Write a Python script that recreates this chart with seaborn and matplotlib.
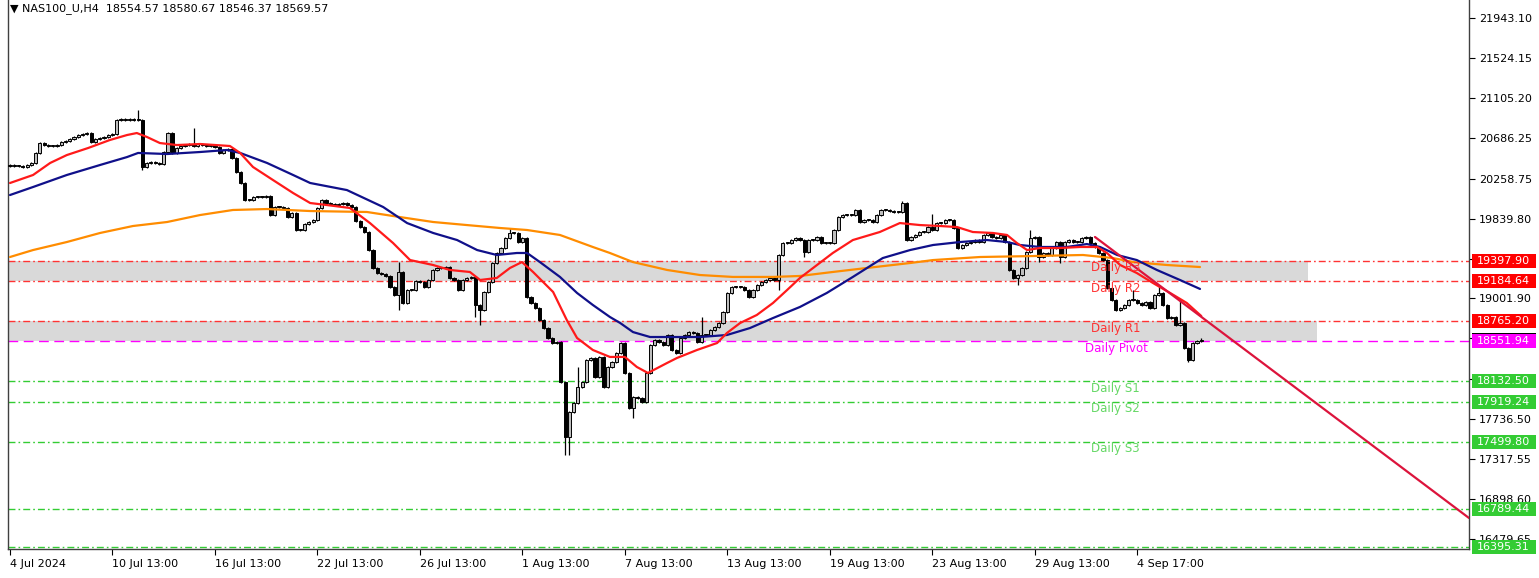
import numpy as np
import pandas as pd
import matplotlib
matplotlib.use("Agg")
import matplotlib.pyplot as plt
from matplotlib.patches import Rectangle
import seaborn as sns

# ---------------- data ----------------
closes = [
    20402, 20391, 20391, 20381, 20402, 20423, 20528, 20632, 20611, 20601,
    20601, 20611, 20643, 20653, 20674, 20695, 20716, 20727, 20737, 20643,
    20674, 20685, 20695, 20716, 20727, 20873, 20884, 20873, 20884, 20873,
    20873, 20381, 20423, 20433, 20423, 20412, 20538, 20737, 20528, 20580,
    20601, 20611, 20622, 20601, 20622, 20611, 20601, 20611, 20590, 20528,
    20559, 20570, 20475, 20329, 20213, 20035, 20035, 20066, 20066, 20066,
    20077, 19877, 19961, 19961, 19951, 19856, 19898, 19720, 19720, 19783,
    19804, 19825, 19951, 20035, 20003, 19993, 19982, 19993, 20003, 19982,
    19961, 19814, 19751, 19699, 19510, 19322, 19269, 19259, 19238, 19123,
    19039, 19280, 18955, 19091, 19091, 19186, 19175, 19123, 19196, 19301,
    19322, 19322, 19332, 19217, 19196, 19091, 19196, 19217, 19228, 18934,
    18881, 19070, 19175, 19374, 19479, 19531, 19636, 19689, 19689, 19594,
    19636, 19018, 18955, 18903, 18776, 18692, 18588, 18535, 18546, 18127,
    17550, 17812, 17906, 18074, 18127, 18357, 18378, 18179, 18389, 18074,
    18284, 18336, 18430, 18535, 18221, 17854, 17969, 17959, 17917, 18221,
    18514, 18567, 18546, 18514, 18619, 18462, 18430, 18588, 18619, 18650,
    18640, 18546, 18619, 18619, 18671, 18703, 18745, 18860, 19060, 19123,
    19123, 19123, 19091, 19018, 19091, 19144, 19175, 19196, 19217, 19196,
    19458, 19584, 19584, 19615, 19636, 19615, 19489, 19615, 19615, 19647,
    19584, 19584, 19584, 19720, 19856, 19877, 19877, 19877, 19930, 19804,
    19825, 19825, 19804, 19877, 19930, 19930, 19919, 19909, 19909, 20003,
    19615, 19647, 19668, 19699, 19699, 19751, 19720, 19793, 19793, 19825,
    19825, 19741, 19531, 19563, 19584, 19594, 19615, 19594, 19668, 19689,
    19647, 19636, 19668, 19594, 19301, 19217, 19248, 19322, 19489, 19636,
    19647, 19437, 19479, 19458, 19531, 19594, 19437, 19594, 19615, 19594,
    19594, 19636, 19647, 19584, 19542, 19479, 19405, 19112, 18986, 18881,
    18903, 18934, 18986, 18986, 18955, 18934, 18965, 18903, 19039, 19060,
    18934, 18797, 18808, 18724, 18745, 18483, 18357, 18535, 18555, 18569.57,
]
first_open = 20395
wick = 14
high_marks = {30: 20978, 43: 20789, 91: 19384, 117: 19740, 133: 18284,
              162: 18808, 209: 20025, 216: 19888, 239: 19720, 263: 19091,
              269: 19144, 274: 18986}
low_marks = {31: 20349, 91: 18881, 109: 18808, 110: 18724, 130: 17361,
             131: 17361, 146: 17748, 180: 19091, 186: 19437, 236: 19144,
             241: 19384, 246: 19374, 276: 18336}

red_idx = [0, 5.4, 9.4, 13.3, 18.3, 23.4, 27.4, 29.7, 32.1, 35.1, 39.1, 44.5,
           51.5, 53.9, 56.9, 61.6, 66.3, 70.3, 74.2, 79.6, 84.3, 89.7, 93.7,
           99.1, 103, 107.7, 110.1, 114, 117.1, 119.9, 122.5, 127.2, 130.4,
           132.8, 136.5, 140.5, 144, 146.8, 149.4, 153.9, 156.2, 160.9, 165.6,
           167.9, 171, 174.9, 178.7, 182, 185, 189, 192.7, 197.4, 203.7, 208.4,
           213.1, 217.8, 221.8, 225.5, 230.2, 233.5, 235.8, 238.2, 241.2, 245.9,
           250.6, 254.6, 256.9, 260, 263.9, 267.7, 271.7, 275.6, 279]
red_val = [20213, 20297, 20423, 20506, 20580, 20664, 20716, 20737, 20695, 20632,
           20611, 20622, 20601, 20528, 20381, 20244, 20108, 20003, 19982, 19951,
           19793, 19584, 19405, 19353, 19301, 19280, 19196, 19217, 19322, 19384,
           19280, 19070, 18776, 18588, 18462, 18389, 18389, 18284, 18221, 18326,
           18378, 18462, 18535, 18640, 18745, 18829, 18955, 19091, 19217, 19353,
           19479, 19615, 19699, 19793, 19772, 19762, 19751, 19699, 19689, 19668,
           19584, 19510, 19531, 19531, 19542, 19542, 19479, 19353, 19269, 19164,
           19060, 18955, 18818]

blue_idx = [0, 5.4, 13.3, 21.1, 27.4, 30, 36.8, 44.5, 50.8, 53.9, 60.2, 66.3,
            70.3, 78.9, 87.4, 93, 99.1, 104.7, 109.4, 114, 118.7, 121.1, 124.1,
            128.8, 132.8, 136.5, 140.5, 142.9, 145.9, 149.9, 161.6, 167.9, 173.3,
            178.7, 185, 191.3, 197.4, 204.4, 210.8, 216.2, 222.5, 228.8, 233.5,
            236.5, 241.2, 247.5, 252.2, 255.3, 259.3, 263.9, 268.6, 274, 278.7]
blue_val = [20087, 20171, 20297, 20402, 20485, 20528, 20517, 20538, 20559, 20528,
            20423, 20297, 20213, 20139, 19961, 19793, 19689, 19615, 19510, 19458,
            19479, 19479, 19384, 19228, 19060, 18934, 18808, 18745, 18650, 18598,
            18598, 18619, 18692, 18797, 18913, 19060, 19228, 19426, 19510, 19563,
            19594, 19615, 19594, 19563, 19542, 19542, 19573, 19542, 19458, 19405,
            19301, 19196, 19102]

orange_idx = [0, 5.4, 13.3, 21.1, 28.8, 36.8, 44.5, 52.2, 60.2, 70.3, 83.6, 91.3,
              99.1, 107, 114.8, 121.1, 128.8, 136.5, 140.5, 145.9, 153.9, 161.6,
              169.3, 178.7, 185, 192.7, 200.7, 210.8, 216.2, 227.2, 239.6, 251.3,
              258.3, 263, 271, 278.7]
orange_val = [19437, 19510, 19594, 19689, 19762, 19804, 19877, 19930, 19940, 19919,
              19909, 19856, 19804, 19772, 19741, 19720, 19668, 19542, 19479, 19384,
              19301, 19248, 19228, 19228, 19238, 19280, 19322, 19374, 19405, 19437,
              19447, 19458, 19426, 19384, 19353, 19332]

trend_idx = [254.1, 341.7]
trend_val = [19647, 16700]

level_names = ["Daily R3", "Daily R2", "Daily R1", "Daily Pivot", "Daily S1",
               "Daily S2", "Daily S3", "", ""]
level_values = [19397.90, 19184.64, 18765.20, 18551.94, 18132.50, 17919.24,
                17499.80, 16789.44, 16395.31]
level_kinds = ["R", "R", "R", "P", "S", "S", "S", "S", "S"]
zone_pairs = [(19184.64, 19397.90), (18551.94, 18765.20)]
zone_ends = [304, 306]

ytick_vals = [21943.10, 21524.15, 21105.20, 20686.25, 20258.75, 19839.80,
              19420.85, 19001.90, 18582.95, 18155.45, 17736.50, 17317.55,
              16898.60, 16479.65]
xtick_pos = [0, 24, 48, 72, 96, 120, 144, 168, 192, 216, 240, 264]
xtick_labels = ["4 Jul 2024", "10 Jul 13:00", "16 Jul 13:00", "22 Jul 13:00",
                "26 Jul 13:00", "1 Aug 13:00", "7 Aug 13:00", "13 Aug 13:00",
                "19 Aug 13:00", "23 Aug 13:00", "29 Aug 13:00", "4 Sep 17:00"]
title = "\u25bc NAS100_U,H4  18554.57 18580.67 18546.37 18569.57"
last_price = 18569.57

# ---------------- styling ----------------
sns.set_theme(style="white")
plt.rcParams["font.family"] = ["DejaVu Sans"]
plt.rcParams["lines.scale_dashes"] = False

W, H = 1539, 578
fig = plt.figure(figsize=(W / 100, H / 100), dpi=100)
fig.patch.set_facecolor("white")
ax = fig.add_axes([8 / W, 29 / H, (1469 - 8) / W, 549 / H])
ax.set_facecolor("white")

XMIN, XMAX = -0.47, 341.7
YMIN, YMAX = 16375, 22132
ax.set_xlim(XMIN, XMAX)
ax.set_ylim(YMIN, YMAX)

colors_line = {"R": "#FF3333", "P": "#FF00FF", "S": "#33CC33"}
colors_text = {"R": "#FF3333", "P": "#FF00FF", "S": "#66D866"}
colors_box = {"R": "#FF0000", "P": "#FF00FF", "S": "#33CC33"}
dashdot = (0, (5, 2.2, 1.2, 2.2))
dashed = (0, (7, 4))

# zones
for (lo, hi), xe in zip(zone_pairs, zone_ends):
    ax.fill_between([XMIN, xe], lo, hi, color="#D9D9D9", lw=0, zorder=0.5)

# level lines
for v, k in zip(level_values, level_kinds):
    ax.axhline(v, color=colors_line[k], lw=1.0,
               ls=dashed if k == "P" else dashdot, zorder=1)

# candles
n = len(closes)
x = np.arange(n)
c = np.array(closes, dtype=float)
o = np.concatenate([[first_open], c[:-1]])
hi = np.maximum(o, c) + wick
lo = np.minimum(o, c) - wick
for i, v in high_marks.items():
    hi[i] = v
for i, v in low_marks.items():
    lo[i] = v
ax.vlines(x, lo, hi, color="black", lw=0.9, zorder=3)
bull = c >= o
body_h = np.maximum(np.abs(c - o), 7)
body_b = np.minimum(o, c)
ax.bar(x[bull], body_h[bull], bottom=body_b[bull], width=0.74,
       color="#BDBDBD", edgecolor="black", linewidth=0.7, zorder=4)
ax.bar(x[~bull], body_h[~bull], bottom=body_b[~bull], width=0.74,
       color="black", edgecolor="black", linewidth=0.7, zorder=4)

# moving averages and trend line
sns.lineplot(x=orange_idx, y=orange_val, color="#FF8C00", lw=1.6, ax=ax, zorder=5)
sns.lineplot(x=blue_idx, y=blue_val, color="#10108A", lw=1.6, ax=ax, zorder=5)
sns.lineplot(x=red_idx, y=red_val, color="#FF1A1A", lw=1.6, ax=ax, zorder=6)
sns.lineplot(x=trend_idx, y=trend_val, color="#DC143C", lw=1.6, ax=ax, zorder=6)

# level labels
for name, v, k in zip(level_names, level_values, level_kinds):
    if not name:
        continue
    xpos = 251.8 if k == "P" else 253.2
    ax.text(xpos, v - 73, name, color=colors_text[k], fontsize=8.5,
            va="center", ha="left", zorder=7)

# axes styling
for s in ["left", "bottom", "right"]:
    ax.spines[s].set_color("#404040")
    ax.spines[s].set_linewidth(1.0)
ax.spines["top"].set_visible(False)

ax.yaxis.tick_right()
ax.set_yticks(ytick_vals)
ax.set_yticklabels([f"{v:.2f}" for v in ytick_vals])
ax.tick_params(axis="y", which="both", right=True, left=False, direction="out",
               length=4, width=0.8, pad=3, labelsize=8, colors="black")
ax.set_xticks(xtick_pos)
ax.set_xticklabels(xtick_labels, ha="left")
ax.tick_params(axis="x", bottom=True, direction="out", length=4, width=0.8,
               pad=3, labelsize=8, colors="black")
ax.set_xlabel("")
ax.set_ylabel("")
ax.grid(False)
if ax.get_legend():
    ax.get_legend().remove()

# right-side price boxes
trans = ax.get_yaxis_transform()
bx0 = (1472 - 8) / (1469 - 8)
bw = (1536 - 1472) / (1469 - 8)
bh = 14 * (YMAX - YMIN) / 549


def price_box(v, fc, label=True):
    ax.add_patch(Rectangle((bx0, v - bh / 2), bw, bh, transform=trans,
                           facecolor=fc, edgecolor="none", clip_on=False, zorder=10))
    if label:
        ax.text(bx0 + 0.003, v, f"{v:.2f}", transform=trans, color="white",
                fontsize=8, va="center", ha="left", clip_on=False, zorder=11)


price_box(last_price, "black", label=False)
for v, k in zip(level_values, level_kinds):
    price_box(v, colors_box[k])

fig.text(10 / W, 1 - 9 / H, title, fontsize=8, va="center", ha="left", color="black")

fig.savefig("out.png", dpi=100, facecolor="white")
